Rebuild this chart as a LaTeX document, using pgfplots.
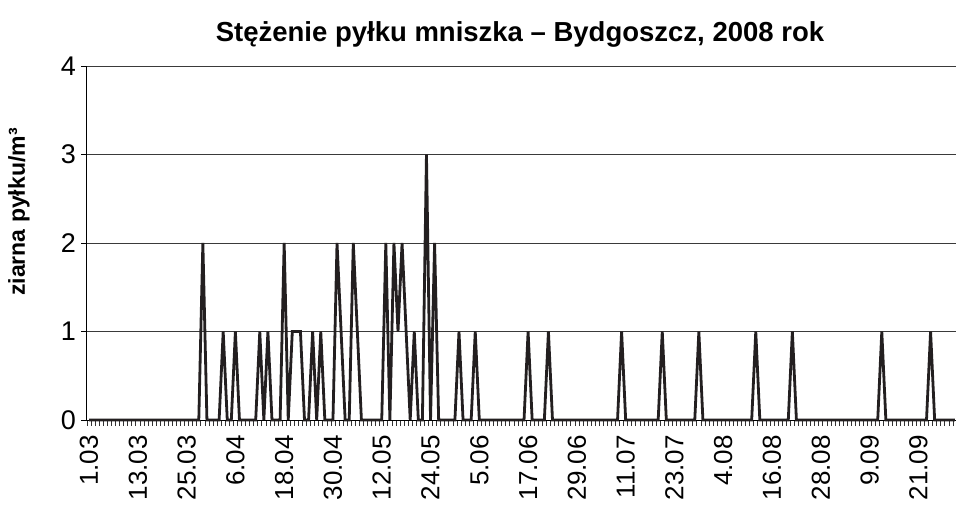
\documentclass[border=0pt]{standalone}
\usepackage{pgfplots}
\usepackage{pgfplotstable}
\pgfplotsset{compat=1.18}
\usepackage{fontspec}
\setmainfont{Liberation Sans}
\definecolor{linec}{HTML}{231F20}
\definecolor{gridc}{HTML}{3A3A3A}

\pgfplotstableread[header=false,row sep=\\]{
0\\0\\0\\0\\0\\0\\0\\0\\0\\0\\
0\\0\\0\\0\\0\\0\\0\\0\\0\\0\\
0\\0\\0\\0\\0\\0\\0\\0\\2\\0\\
0\\0\\0\\1\\0\\0\\1\\0\\0\\0\\
0\\0\\1\\0\\1\\0\\0\\0\\2\\0\\
1\\1\\1\\0\\0\\1\\0\\1\\0\\0\\
0\\2\\1\\0\\0\\2\\1\\0\\0\\0\\
0\\0\\0\\2\\0\\2\\1\\2\\1\\0\\
1\\0\\0\\3\\0\\2\\0\\0\\0\\0\\
0\\1\\0\\0\\0\\1\\0\\0\\0\\0\\
0\\0\\0\\0\\0\\0\\0\\0\\1\\0\\
0\\0\\0\\1\\0\\0\\0\\0\\0\\0\\
0\\0\\0\\0\\0\\0\\0\\0\\0\\0\\
0\\1\\0\\0\\0\\0\\0\\0\\0\\0\\
0\\1\\0\\0\\0\\0\\0\\0\\0\\0\\
1\\0\\0\\0\\0\\0\\0\\0\\0\\0\\
0\\0\\0\\0\\1\\0\\0\\0\\0\\0\\
0\\0\\0\\1\\0\\0\\0\\0\\0\\0\\
0\\0\\0\\0\\0\\0\\0\\0\\0\\0\\
0\\0\\0\\0\\0\\1\\0\\0\\0\\0\\
0\\0\\0\\0\\0\\0\\0\\1\\0\\0\\
0\\0\\0\\0\\
}\pollen

\begin{document}
\begin{tikzpicture}
\useasboundingbox (-87pt,-87pt) rectangle (869pt,420pt);
\clip (-87pt,-87pt) rectangle (869pt,420pt);
\begin{axis}[
  at={(0pt,0pt)}, anchor=south west,
  scale only axis, width=870pt, height=354pt,
  xmin=-0.5, xmax=213.5, ymin=0, ymax=4,
  axis x line*=bottom, axis y line*=left,
  axis line style={black, line width=1pt, -},
  ytick={0,1,2,3,4},
  ymajorgrids, grid style={gridc, line width=0.9pt},
  xtick={0,12,...,204},
  xticklabels={1.03,13.03,25.03,6.04,18.04,30.04,12.05,24.05,5.06,17.06,29.06,11.07,23.07,4.08,16.08,28.08,9.09,21.09},
  minor xtick={-0.5,0.5,...,213.5},
  tick align=outside,
  major tick length=6pt, minor tick length=6pt,
  major x tick style={draw=none},
  minor x tick style={black!80, line width=0.7pt},
  major y tick style={black, line width=0.9pt},
  /pgf/number format/assume math mode=true,
  xticklabel style={rotate=90, anchor=east, inner sep=0pt, font=\fontsize{26}{26}\selectfont},
  xticklabel shift=9pt,
  yticklabel style={inner sep=0pt, font=\fontsize{27}{27}\selectfont},
  yticklabel shift=5pt,
  clip=false,
]
\addplot[linec, line width=2.8pt, line join=miter, mark=none] table[x expr=\coordindex, y index=0] {\pollen};
\end{axis}
\node[font=\bfseries\fontsize{27.5}{27.5}\selectfont] at (433pt,386pt) {Stężenie pyłku mniszka – Bydgoszcz, 2008 rok};
\node[rotate=90, font=\bfseries\fontsize{23}{23}\selectfont] at (-68pt,208pt) {ziarna pyłku/m³};
\end{tikzpicture}
\end{document}
